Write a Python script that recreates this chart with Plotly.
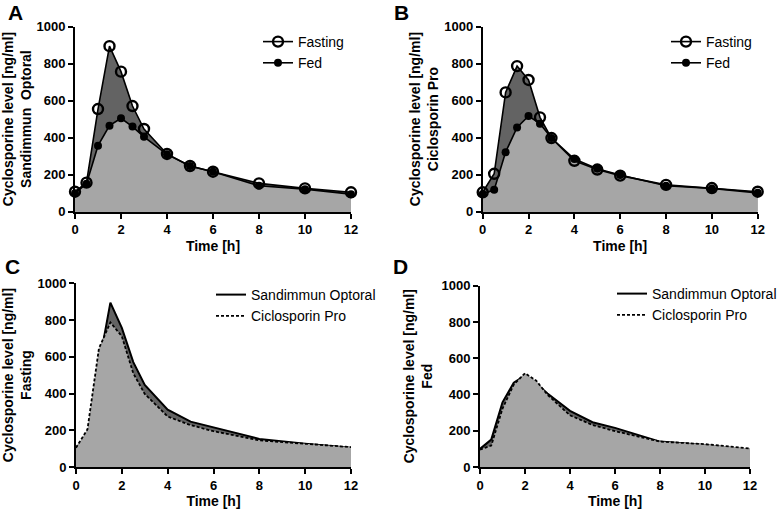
import plotly.graph_objects as go

# Sampling times [h]
times = [0, 0.5, 1, 1.5, 2, 2.5, 3, 4, 5, 6, 8, 10, 12]

# Cyclosporine level [ng/ml]
sand_fasting = [108, 157, 555, 895, 757, 571, 447, 312, 247, 216, 153, 126, 105]
sand_fed = [100, 151, 357, 465, 505, 460, 405, 310, 247, 216, 140, 122, 95]
cic_fasting = [105, 205, 645, 787, 712, 510, 398, 275, 228, 195, 145, 128, 108]
cic_fed = [96, 118, 322, 455, 517, 476, 398, 285, 232, 198, 140, 126, 102]

x_ticks = [0, 2, 4, 6, 8, 10, 12]
y_ticks = [0, 200, 400, 600, 800, 1000]

W, H = 778, 511
DARK = '#636363'
LIGHT = '#a6a6a6'
FONT = 'Liberation Sans, Arial, sans-serif'


def px_x(p):
    return p / W


def px_y(p):
    return 1 - p / H


# panel boxes in pixels: (left, right, top, bottom)
PANELS = {
    'A': (75, 351, 26.7, 211.7),
    'B': (482.7, 757.7, 26.7, 211.7),
    'C': (76, 351, 283.3, 467),
    'D': (480, 750, 285.7, 467),
}
AXES = {'A': ('x', 'y'), 'B': ('x2', 'y2'), 'C': ('x3', 'y3'), 'D': ('x4', 'y4')}

fig = go.Figure()


def add_pk_panel(panel, fasting, fed, legend):
    xa, ya = AXES[panel]
    # filled areas
    fig.add_trace(go.Scatter(x=times, y=fasting, mode='none', fill='tozeroy',
                             fillcolor=DARK, showlegend=False, xaxis=xa, yaxis=ya))
    fig.add_trace(go.Scatter(x=times, y=fed, mode='none', fill='tozeroy',
                             fillcolor=LIGHT, showlegend=False, xaxis=xa, yaxis=ya))
    # lines and markers
    fig.add_trace(go.Scatter(x=times, y=fasting, mode='lines+markers', name='Fasting',
                             line=dict(color='black', width=1.6),
                             marker=dict(symbol='circle-open', size=10, color='black',
                                         line=dict(color='black', width=2.4)),
                             cliponaxis=False, legend=legend, xaxis=xa, yaxis=ya))
    fig.add_trace(go.Scatter(x=times, y=fed, mode='lines+markers', name='Fed',
                             line=dict(color='black', width=1.6),
                             marker=dict(symbol='circle', size=8, color='black'),
                             cliponaxis=False, legend=legend, xaxis=xa, yaxis=ya))


def add_compare_panel(panel, sand, cic, legend):
    xa, ya = AXES[panel]
    fig.add_trace(go.Scatter(x=times, y=sand, mode='lines', fill='tozeroy',
                             fillcolor=DARK, line=dict(color='black', width=2),
                             showlegend=False, xaxis=xa, yaxis=ya))
    fig.add_trace(go.Scatter(x=times, y=cic, mode='lines', fill='tozeroy',
                             fillcolor=LIGHT, line=dict(color='black', width=1.8, dash='3px,2px'),
                             showlegend=False, xaxis=xa, yaxis=ya))
    # legend entries only
    fig.add_trace(go.Scatter(x=[None], y=[None], mode='lines', name='Sandimmun Optoral',
                             line=dict(color='black', width=2), legend=legend,
                             xaxis=xa, yaxis=ya))
    fig.add_trace(go.Scatter(x=[None], y=[None], mode='lines', name='Ciclosporin Pro',
                             line=dict(color='black', width=1.8, dash='3px,2px'), legend=legend,
                             xaxis=xa, yaxis=ya))


add_pk_panel('A', sand_fasting, sand_fed, 'legend')
add_pk_panel('B', cic_fasting, cic_fed, 'legend2')
add_compare_panel('C', sand_fasting, cic_fasting, 'legend3')
add_compare_panel('D', sand_fed, cic_fed, 'legend4')

axis_common = dict(showline=True, linecolor='black', linewidth=1.8, ticks='outside',
                   ticklen=5, tickwidth=1.8, tickcolor='black', showgrid=False,
                   zeroline=False, automargin=False,
                   tickfont=dict(family=FONT, size=13, color='black', weight='bold'))

layout_axes = {}
for i, (panel, (l, r, t, b)) in enumerate(PANELS.items()):
    sfx = '' if i == 0 else str(i + 1)
    layout_axes['xaxis' + sfx] = dict(
        axis_common, domain=[px_x(l), px_x(r)], range=[0, 12], tickvals=x_ticks,
        anchor='y' + sfx,
        title=dict(text='Time [h]', standoff=5,
                   font=dict(family=FONT, size=14, color='black', weight='bold')))
    layout_axes['yaxis' + sfx] = dict(
        axis_common, domain=[px_y(b), px_y(t)], range=[0, 1000], tickvals=y_ticks,
        anchor='x' + sfx)

legend_common = dict(font=dict(family=FONT, size=14, color='black'), bgcolor='rgba(0,0,0,0)',
                     xanchor='left', yanchor='top', itemwidth=30, tracegroupgap=0)

fig.update_layout(
    width=W, height=H,
    margin=dict(l=0, r=0, t=0, b=0, autoexpand=False),
    paper_bgcolor='white', plot_bgcolor='white',
    legend=dict(legend_common, x=px_x(258), y=px_y(26)),
    legend2=dict(legend_common, x=px_x(666), y=px_y(26)),
    legend3=dict(legend_common, x=px_x(211), y=px_y(279)),
    legend4=dict(legend_common, x=px_x(612), y=px_y(278)),
    **layout_axes,
)

# y axis titles and panel letters
y_titles = {
    'A': ('Cyclosporine level [ng/ml]<br>Sandimmun  Optoral', 17),
    'B': ('Cyclosporine level [ng/ml]<br>Ciclosporin Pro', 424),
    'C': ('Cyclosporine level [ng/ml]<br>Fasting', 17),
    'D': ('Cyclosporine level [ng/ml]<br>Fed', 418),
}
letters = {'A': (16, 12), 'B': (401, 12), 'C': (13, 266), 'D': (400, 266)}

for panel, (text, cx) in y_titles.items():
    l, r, t, b = PANELS[panel]
    fig.add_annotation(text='<b>' + text + '</b>', xref='paper', yref='paper',
                       x=px_x(cx), y=px_y((t + b) / 2), xanchor='center', yanchor='middle',
                       textangle=-90, showarrow=False,
                       font=dict(family=FONT, size=14, color='black'))

for panel, (cx, cy) in letters.items():
    fig.add_annotation(text='<b>' + panel + '</b>', xref='paper', yref='paper',
                       x=px_x(cx), y=px_y(cy), xanchor='center', yanchor='middle',
                       showarrow=False, font=dict(family=FONT, size=21, color='black'))

# the page's default body margin would push the 778x511 figure off the window
fig.write_html("out.html", config={'displayModeBar': False},
               post_script="document.body.style.margin = '0';")
